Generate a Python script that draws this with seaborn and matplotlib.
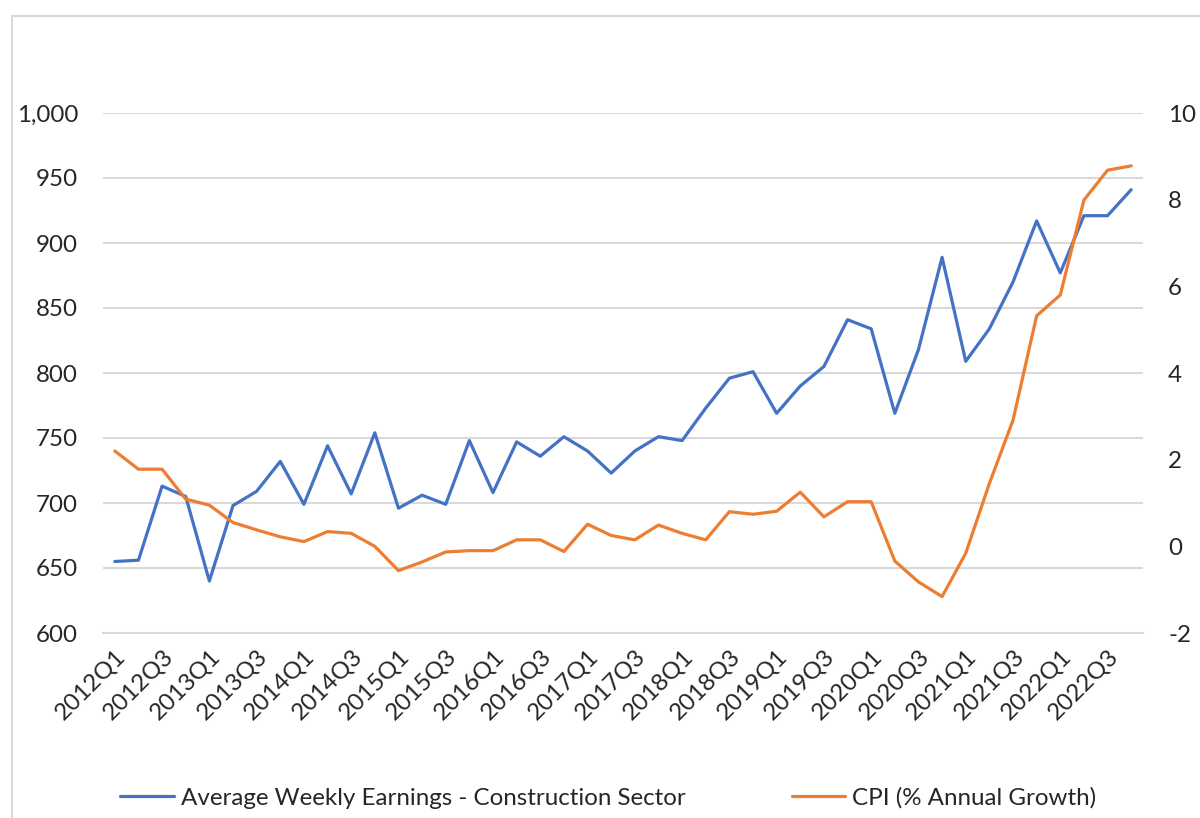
import numpy as np
import pandas as pd
import seaborn as sns
import matplotlib.pyplot as plt
from matplotlib.patches import Rectangle
from matplotlib.ticker import FuncFormatter, MultipleLocator

# quarterly data, 2012Q1 - 2022Q4
quarters = [f"{y}Q{q}" for y in range(2012, 2023) for q in range(1, 5)]
earnings = [655, 656, 713, 705, 640, 698, 709, 732, 699, 744, 707, 754,
            696, 706, 699, 748, 708, 747, 736, 751, 740, 723, 740, 751,
            748, 773, 796, 801, 769, 790, 805, 841, 834, 769, 818, 889,
            809, 834, 870, 917, 877, 921, 921, 941]
cpi = [2.2, 1.78, 1.78, 1.09, 0.95, 0.55, 0.38, 0.22, 0.11, 0.34, 0.30, 0.0,
       -0.56, -0.36, -0.13, -0.1, -0.1, 0.15, 0.15, -0.12, 0.51, 0.25, 0.15, 0.49,
       0.30, 0.15, 0.80, 0.74, 0.81, 1.25, 0.68, 1.03, 1.03, -0.34, -0.82, -1.16,
       -0.16, 1.45, 2.91, 5.32, 5.80, 7.99, 8.68, 8.78]

df = pd.DataFrame({"idx": np.arange(len(quarters)), "quarter": quarters,
                   "earnings": earnings, "cpi": cpi})

sns.set_theme(style="white")
plt.rcParams["font.family"] = ["Lato", "DejaVu Sans"]
plt.rcParams["axes.unicode_minus"] = False

BLUE = "#4472C4"
ORANGE = "#ED7D31"
GRID = "#d9d9d9"
FS = 17.4

fig = plt.figure(figsize=(12, 8.18), dpi=100)
ax = fig.add_axes([103 / 1200, 1 - 633 / 818, 1040 / 1200, 520 / 818])
ax2 = ax.twinx()

sns.lineplot(data=df, x="idx", y="earnings", ax=ax, color=BLUE, linewidth=2.3,
             label="Average Weekly Earnings - Construction Sector", legend=False)
sns.lineplot(data=df, x="idx", y="cpi", ax=ax2, color=ORANGE, linewidth=2.3,
             label="CPI (% Annual Growth)", legend=False)

ax.set_xlim(-0.5, len(quarters) - 0.5)
ax.set_ylim(600, 1000)
ax2.set_ylim(-2, 10)
ax.yaxis.set_major_locator(MultipleLocator(50))
ax2.yaxis.set_major_locator(MultipleLocator(2))
ax.yaxis.set_major_formatter(FuncFormatter(lambda v, p: f"{v:,.0f}"))
ax.grid(axis="y", color=GRID, linewidth=1.5)
ax.set_axisbelow(True)

ax.set_xticks(df["idx"][::2])
ax.set_xticklabels(df["quarter"][::2], rotation=45, ha="right",
                   rotation_mode="anchor", fontsize=FS)
ax.set_xticks(np.arange(-0.5, len(quarters)), minor=True)
ax.tick_params(axis="x", which="major", length=0, pad=9)
ax.tick_params(axis="x", which="minor", length=5, color=GRID, width=1.5)
ax.tick_params(axis="y", length=0, pad=18, labelsize=FS)
ax2.tick_params(axis="y", length=0, pad=18, labelsize=FS)
ax.set_xlabel("")
ax.set_ylabel("")
ax2.set_ylabel("")

for a in (ax, ax2):
    for side in ("top", "left", "right", "bottom"):
        a.spines[side].set_visible(False)
ax.spines["bottom"].set_visible(True)
ax.spines["bottom"].set_color(GRID)
ax.spines["bottom"].set_linewidth(1.5)

h1, l1 = ax.get_legend_handles_labels()
h2, l2 = ax2.get_legend_handles_labels()
fig.legend(h1 + h2, l1 + l2, loc="center", bbox_to_anchor=(0.507, 1 - 798 / 818),
           ncol=2, frameon=False, fontsize=FS, handlelength=2.2,
           handletextpad=0.3, columnspacing=4.4)

fig.patches.append(Rectangle((12 / 1200, -0.1), 1.2, 1 - 16 / 818 + 0.1,
                             transform=fig.transFigure, fill=False,
                             edgecolor=GRID, linewidth=1.5))

fig.savefig("out.png", dpi=100)
